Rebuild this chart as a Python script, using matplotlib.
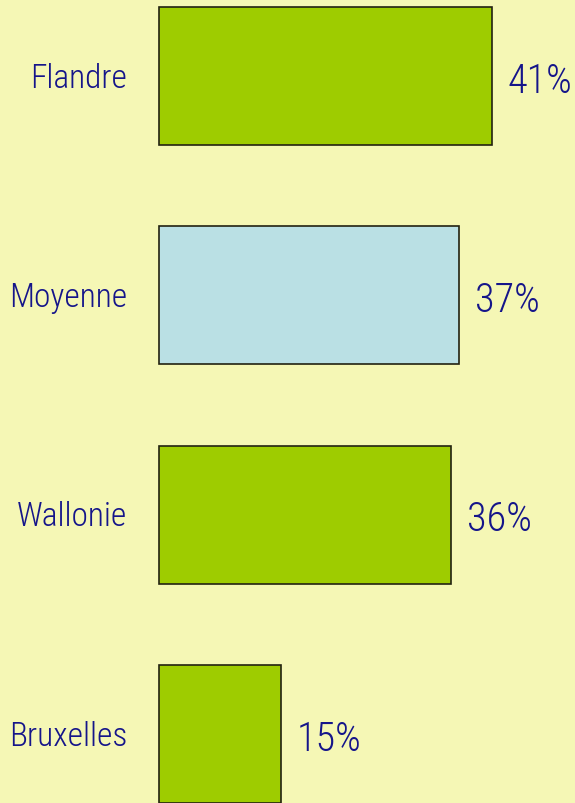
import matplotlib
matplotlib.use('Agg')
import matplotlib.pyplot as plt
from matplotlib import font_manager

categories = ['Flandre', 'Moyenne', 'Wallonie', 'Bruxelles']
values = [41, 37, 36, 15]
value_labels = ['41%', '37%', '36%', '15%']
bar_colors = ['#9ecc00', '#bae0e4', '#9ecc00', '#9ecc00']

BG = '#f5f7b5'
TEXT = '#15158a'

# pick a narrow family if one is installed
names = {f.name for f in font_manager.fontManager.ttflist}
family = 'DejaVu Sans'
for cand in ['Roboto Condensed', 'Liberation Sans Narrow', 'Open Sans Condensed']:
    if cand in names:
        family = cand
        break

fig = plt.figure(figsize=(5.75, 8.04), dpi=100, facecolor=BG)
ax = fig.add_axes([0, 0, 1, 1])
ax.set_facecolor(BG)

ypos = list(range(len(categories)))
ax.barh(ypos, values, height=0.63, color=bar_colors, edgecolor='#222211', linewidth=1.2)

for y, cat, v, lab in zip(ypos, categories, values, value_labels):
    ax.text(-3.9, y + 0.008, cat, ha='right', va='center', fontsize=24, color=TEXT,
            family=family, stretch='condensed', weight='light')
    ax.text(v + 1.9, y + 0.02, lab, ha='left', va='center', fontsize=29, color=TEXT,
            family=family, stretch='condensed', weight='light')

ax.set_xlim(-19.58, 51.23)
ax.set_ylim(3.315, -0.351)
ax.axis('off')

fig.savefig('out.png', dpi=100, facecolor=BG)
